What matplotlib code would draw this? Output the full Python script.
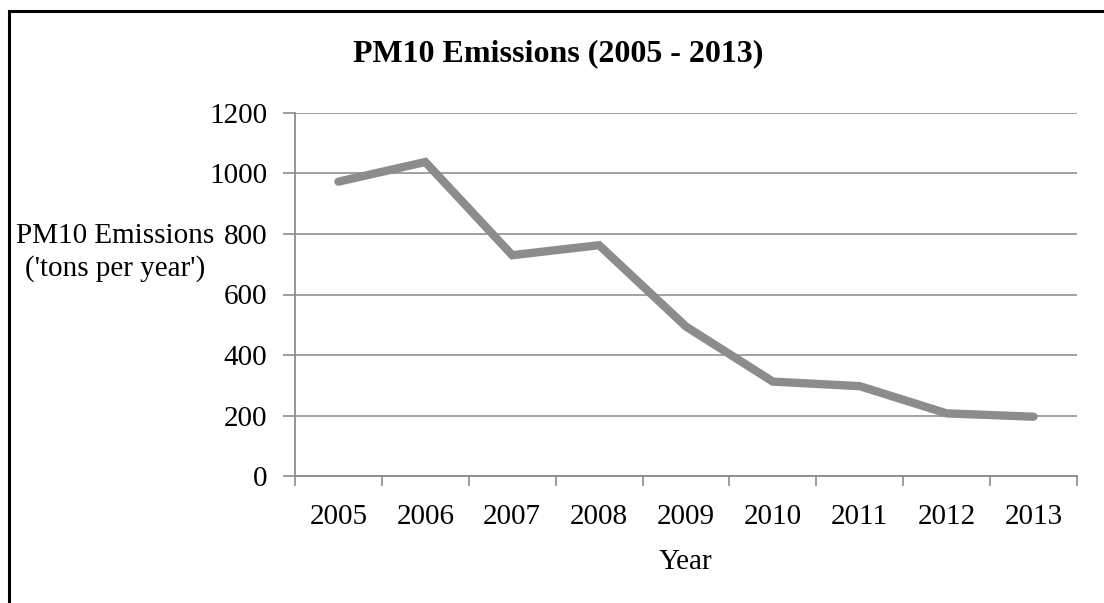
import matplotlib
matplotlib.use("Agg")
import matplotlib.pyplot as plt
import matplotlib.patches as patches
import numpy as np

# Data
years = ["2005", "2006", "2007", "2008", "2009", "2010", "2011", "2012", "2013"]
emissions = [973, 1038, 730, 763, 494, 312, 297, 207, 196]
y_ticks = [0, 200, 400, 600, 800, 1000, 1200]

plt.rcParams['font.family'] = ['Liberation Serif', 'DejaVu Serif']

fig = plt.figure(figsize=(11.04, 6.03), dpi=100)
ax = fig.add_axes([295 / 1104, 1 - 476 / 603, (1077 - 295) / 1104, (476 - 113) / 603])

x = np.arange(len(years)) + 0.5
ax.plot(x, emissions, color='#8c8c8c', linewidth=6, solid_capstyle='round',
        solid_joinstyle='miter', zorder=3)

# axes and grid
ax.set_xlim(0, len(years))
ax.set_ylim(0, 1200)
ax.set_yticks(y_ticks)
ax.set_yticklabels([str(v) for v in y_ticks], fontsize=21)
ax.set_xticks(x)
ax.set_xticklabels(years, fontsize=21)
ax.set_xticks(np.arange(len(years) + 1), minor=True)
ax.tick_params(axis='x', which='major', length=0, pad=20)
ax.tick_params(axis='x', which='minor', length=7, width=1.2, color='#8c8c8c')
ax.tick_params(axis='y', length=9, width=1.2, color='#8c8c8c', pad=11)
ax.yaxis.grid(True, color='#9a9a9a', linewidth=1.3)
ax.set_axisbelow(True)
for side in ['top', 'right']:
    ax.spines[side].set_visible(False)
for side in ['left', 'bottom']:
    ax.spines[side].set_color('#8c8c8c')
    ax.spines[side].set_linewidth(1.3)

ax.set_xlabel('Year', fontsize=21, labelpad=14)
ax.set_ylabel("PM10 Emissions\n('tons per year')", fontsize=21, rotation=0,
              ha='center', va='center', linespacing=1.3)
ax.yaxis.set_label_coords(-0.23, 0.615)

fig.text(0.506, 1 - 54 / 603, 'PM10 Emissions (2005 - 2013)', fontsize=23,
         fontweight='bold', ha='center', va='center')

# chart border (cut off at the right and bottom)
border = patches.Rectangle((8.5 / 1104, -0.1), 1.2, 1.1 - 11 / 603,
                           transform=fig.transFigure, fill=False,
                           edgecolor='black', linewidth=2.2, clip_on=False)
fig.patches.append(border)

fig.savefig('out.png', dpi=100)
